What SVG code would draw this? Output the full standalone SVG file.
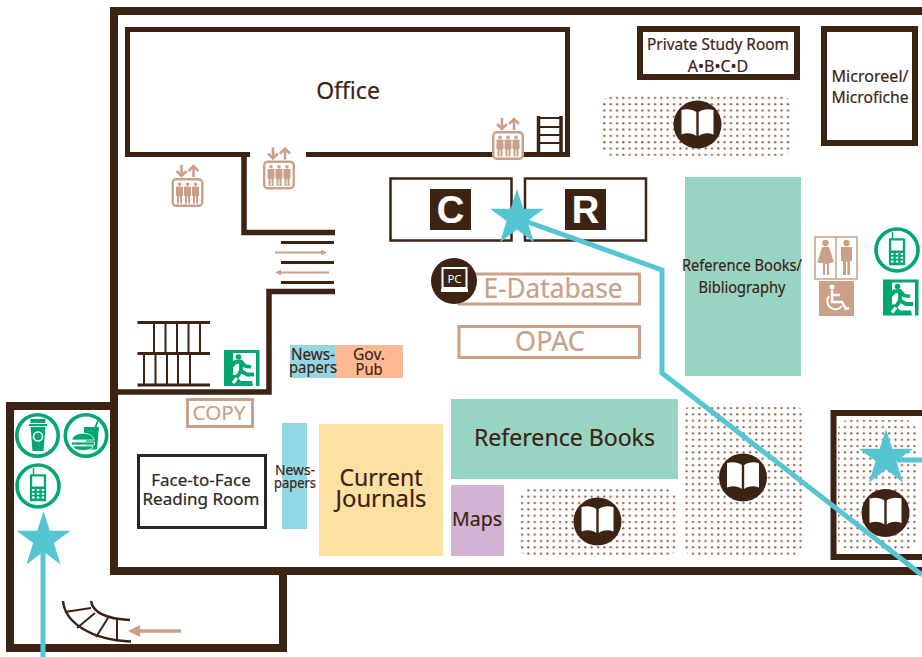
<svg xmlns="http://www.w3.org/2000/svg" xmlns:xlink="http://www.w3.org/1999/xlink" width="922" height="657" viewBox="0 0 922 657">
<style>
text{font-family:"Noto Sans","Open Sans","DejaVu Sans",sans-serif;fill:#3d2314;text-anchor:middle;stroke:#3d2314;stroke-width:.2}
.wall{fill:none;stroke:#3d2314;stroke-linejoin:miter}
.tan{fill:none;stroke:#cba088;stroke-width:3}
.tant{fill:#cba088}
.route{fill:none;stroke:#56c5d2;stroke-width:5;stroke-linejoin:miter}
.g{fill:none;stroke:#00a870;stroke-width:3.6}
.gf{fill:#00a870}
.b{stroke:#3d2314;fill:none}
.tt{fill:#cba088;stroke:#cba088}
</style>
<defs>
<pattern id="dots" width="6.33" height="6.33" patternUnits="userSpaceOnUse"><circle cx="3" cy="3" r="1.15" fill="#8f5f40"/></pattern>
<polygon id="star" fill="#56c5d2" points="0,-28.5 6.3,-8.8 27,-8.8 10.4,3.6 17,25 0,12 -17,25 -10.4,3.6 -27,-8.8 -6.3,-8.8"/>
<g id="book">
<circle r="24" fill="#3d2314"/>
<path fill="#fff" d="M-1.2,-12.5C-5,-15.5 -11,-16 -16,-14.5V10C-10.5,8 -5,8.5 -1.2,11.5ZM1.2,-12.5C5,-15.5 11,-16 16,-14.5V10C10.5,8 5,8.5 1.2,11.5Z"/>
</g>
<g id="lift">
<rect x="1.2" y="1.2" width="29.6" height="26.6" rx="3.5" fill="#fff" stroke="#cba088" stroke-width="2.4"/>
<path class="tant" d="M4.500,8.500h7v9.500h-1v7.500h-2v-7h-1v7h-2v-7.500h-1ZM12.500,8.500h7v9.500h-1v7.500h-2v-7h-1v7h-2v-7.500h-1ZM20.500,8.500h7v9.500h-1v7.500h-2v-7h-1v7h-2v-7.500h-1Z"/>
<circle class="tant" cx="8" cy="6.300" r="1.800"/><circle class="tant" cx="16" cy="6.300" r="1.800"/><circle class="tant" cx="24" cy="6.300" r="1.800"/>
<path d="M10,-13V-2M5,-7L10,-2L15,-7M22,-1V-12M17,-7L22,-12L27,-7" fill="none" stroke="#cba088" stroke-width="2.6"/>
</g>
<g id="phone">
<circle r="21" fill="#fff" class="g"/>
<path class="gf" d="M-8,-12H-5.800V-19H-4.200V-12H8Q9,-12 9,-11V17Q9,18 8,18H-8Q-9,18 -9,17V-11Q-9,-12 -8,-12Z" transform="translate(0,-1) scale(.9)"/>
<rect x="-5.800" y="-9.500" width="11.600" height="10" fill="#fff"/>
<path fill="#fff" d="M-6,3h2.500v2h-2.500zM-1.200,3h2.500v2h-2.500zM3.600,3h2.500v2h-2.500zM-6,6.700h2.500v2h-2.500zM-1.200,6.700h2.500v2h-2.500zM3.600,6.700h2.500v2h-2.500zM-6,10.400h2.500v2h-2.500zM-1.200,10.400h2.500v2h-2.500zM3.600,10.400h2.500v2h-2.500z"/>
</g>
<g id="exit">
<rect width="35.500" height="36" class="gf"/>
<path fill="#fff" d="M9,3H32V36H29L28,31H17L12,26H9Z"/>
<circle class="gf" cx="14.500" cy="7" r="2.800"/>
<path d="M8,16L11,12L17,11.500L21,16L27,17M17,11.500L17,21L13,27L8,27" fill="none" stroke="#00a870" stroke-width="3.800" stroke-linejoin="round"/>
<path d="M17,21L23,24.500L30,24.500" fill="none" stroke="#00a870" stroke-width="3.800"/>
<path d="M13,28L9,33" fill="none" stroke="#fff" stroke-width="3.200"/>
</g>
</defs>
<rect width="922" height="657" fill="#fff"/>

<g id="dot-areas">
<rect x="600" y="96" width="193" height="60" rx="12" fill="url(#dots)"/>
<rect x="684" y="403" width="118" height="154" rx="12" fill="url(#dots)"/>
<rect x="838" y="420" width="78" height="129" rx="10" fill="url(#dots)"/>
<rect x="519" y="489" width="158" height="67" rx="10" fill="url(#dots)"/>
</g>

<g id="walls">
<path class="wall" stroke-width="8" d="M922,11H114V571H922"/>
<path class="wall" stroke-width="8" d="M114,406H10V648H283V571"/>
<path class="wall" stroke-width="5" d="M250,154.500H127.500V29.500H567.500V154.500H533"/>
<path class="wall" stroke-width="5" d="M306,154.500H567"/>
<path class="wall" stroke-width="5.500" d="M244,155V232.500H335"/>
<path class="wall" stroke-width="5.500" d="M335,291.500H269V392H115"/>
</g>

<g id="stairs">
<path class="b" stroke-width="3" d="M281,242.500H334M281,262.500H334M281,282.500H334"/>
<path class="b" stroke-width="3" d="M137.500,322.500H210M137.500,353.500H210M137.500,385H210"/>
<path class="b" stroke-width="2" d="M154,322V353M165.500,322V353M177,322V353M188.500,322V353M200,322V353M144,354V385M155.500,354V385M167,354V385M178,354V385M190,354V385"/>
<path class="b" stroke-width="3.500" d="M538.500,116V153M561,116V153"/>
<path class="b" stroke-width="2" d="M539,118H561M539,127H561M539,135H561M539,143H561"/>
<path class="b" stroke-width="2.500" d="M63,601C65,622 90,640 131,641.500M91,601C93,613 108,619 130,620"/>
<path class="b" stroke-width="2" d="M65,612L91,608M77,628L95,613M96,637L108,618M117,640V620"/>
<path d="M275,252.500H325" stroke="#cba088" stroke-width="1.800"/><path class="tant" d="M327,252.500L321,249.800V255.200Z"/>
<path d="M329,272.500H279" stroke="#cba088" stroke-width="1.800"/><path class="tant" d="M275,272.500L281,269.800V275.200Z"/>
<path d="M181,631H137" stroke="#cba088" stroke-width="3.500"/><path class="tant" d="M128,631L140,625V637Z"/>
</g>

<g id="office"><text x="348" y="99" font-size="23">Office</text></g>

<g id="private-study"><rect x="640" y="29" width="157" height="48" fill="#fff" class="wall" stroke-width="6"/>
<text x="718" y="50" font-size="16" textLength="142" lengthAdjust="spacingAndGlyphs">Private Study Room</text><text x="718" y="72" font-size="16">A•B•C•D</text></g>

<g id="microreel"><rect x="824" y="29" width="91" height="114" fill="#fff" class="wall" stroke-width="6"/>
<text x="870" y="82" font-size="17" textLength="77" lengthAdjust="spacingAndGlyphs">Microreel/</text><text x="870" y="103" font-size="17" textLength="77" lengthAdjust="spacingAndGlyphs">Microfiche</text></g>

<g id="book-top"><use xlink:href="#book" x="697.500" y="124.500"/></g>

<g id="lift-1"><use xlink:href="#lift" x="171.500" y="178"/></g>
<g id="lift-2"><use xlink:href="#lift" x="263" y="160.500"/></g>
<g id="lift-3"><use xlink:href="#lift" x="492" y="131"/></g>

<g id="counter-c"><rect x="390.500" y="178.500" width="121" height="62" fill="#fff" class="b" stroke-width="2.500"/>
<rect x="430" y="189" width="41" height="41" fill="#3d2314"/>
<text x="450.500" y="223" font-size="38" font-weight="700" style="font-family:'Liberation Sans',Arial,sans-serif;fill:#fff;stroke:#fff">C</text></g>
<g id="counter-r"><rect x="525" y="178.500" width="121" height="62" fill="#fff" class="b" stroke-width="2.500"/>
<rect x="565" y="189" width="41" height="41" fill="#3d2314"/>
<text x="585.500" y="223" font-size="38" font-weight="700" style="font-family:'Liberation Sans',Arial,sans-serif;fill:#fff;stroke:#fff">R</text></g>

<g id="e-database"><rect x="459" y="274" width="180.500" height="30" fill="#fff" class="tan"/>
<text x="553" y="298" font-size="27" class="tt" textLength="139" lengthAdjust="spacingAndGlyphs">E-Database</text></g>
<g id="pc"><circle cx="454" cy="281" r="23" fill="#3d2314"/>
<rect x="442.500" y="268" width="24" height="20" fill="#3d2314" stroke="#fff" stroke-width="2"/>
<path d="M441,290.500H468" stroke="#fff" stroke-width="3"/>
<text x="454.500" y="283" font-size="11.500" style="fill:#fff;stroke:none">PC</text></g>
<g id="opac"><rect x="459" y="326.500" width="180.500" height="31" fill="#fff" class="tan"/>
<text x="550" y="351" font-size="27" class="tt">OPAC</text></g>

<g id="ref-bib"><rect x="685" y="177" width="116" height="199" fill="#98d4c3"/>
<text x="742" y="271" font-size="16.500" textLength="120" lengthAdjust="spacingAndGlyphs">Reference Books/</text><text x="742" y="293" font-size="16.500" textLength="87" lengthAdjust="spacingAndGlyphs">Bibliography</text></g>

<g id="restroom"><rect x="815" y="237" width="42" height="42" fill="#fff" stroke="#cba088" stroke-width="1.500"/>
<path d="M836,237V279" stroke="#cba088" stroke-width="1.500"/>
<circle class="tant" cx="825.500" cy="243" r="3.200"/><circle class="tant" cx="846.500" cy="243" r="3.200"/>
<path class="tant" d="M822,247H829L834,262L830.500,263H829V275H827V264H825V275H823V263H819L817.500,262ZM841,247H852V261H850V275H847.300V262H846V275H843V261H841Z"/></g>
<g id="wheelchair"><rect x="819" y="281" width="35" height="35" class="tant"/>
<circle cx="832" cy="287" r="2.500" fill="#fff"/>
<path d="M832,290V302H842L846,309L849,308M832,295H840" fill="none" stroke="#fff" stroke-width="2.500"/>
<path d="M829,296A8,8 0 1 0 842,306" fill="none" stroke="#fff" stroke-width="2"/></g>
<g id="phone-right"><use xlink:href="#phone" x="897" y="250"/></g>
<g id="exit-right"><use xlink:href="#exit" x="883" y="279.500"/></g>
<g id="exit-left"><use xlink:href="#exit" x="224" y="350"/></g>

<g id="news-gov"><rect x="290" y="345" width="46" height="33" fill="#92d7e4"/><rect x="335" y="345" width="68" height="33" fill="#fdb993"/>
<text x="313" y="360" font-size="16" textLength="44" lengthAdjust="spacingAndGlyphs">News-</text><text x="313" y="373" font-size="16" textLength="48" lengthAdjust="spacingAndGlyphs">papers</text>
<text x="369" y="360" font-size="16.500" textLength="32" lengthAdjust="spacingAndGlyphs">Gov.</text><text x="369" y="375" font-size="16.500" textLength="27" lengthAdjust="spacingAndGlyphs">Pub</text></g>

<g id="copy"><rect x="187.500" y="399.500" width="65" height="27" fill="#fff" class="tan"/>
<text x="219" y="420" font-size="20" class="tt" textLength="53" lengthAdjust="spacingAndGlyphs">COPY</text></g>

<g id="face-room"><rect x="138.500" y="455.500" width="127" height="72" fill="#fff" stroke="#2b2623" stroke-width="3"/>
<text x="201" y="486" font-size="17" style="fill:#2b2623;stroke:#2b2623">Face-to-Face</text><text x="201" y="505" font-size="17" style="fill:#2b2623;stroke:#2b2623">Reading Room</text></g>

<g id="news-side"><rect x="282" y="423" width="25" height="106" fill="#92d7e4"/>
<text x="295" y="475" font-size="15" textLength="40" lengthAdjust="spacingAndGlyphs">News-</text><text x="295" y="488" font-size="15" textLength="42" lengthAdjust="spacingAndGlyphs">papers</text></g>

<g id="journals"><rect x="319" y="424" width="124" height="132" fill="#fee0a3"/>
<text x="381" y="486" font-size="23.500" textLength="83" lengthAdjust="spacingAndGlyphs">Current</text><text x="381" y="507" font-size="23.500" textLength="91" lengthAdjust="spacingAndGlyphs">Journals</text></g>

<g id="reference"><rect x="451" y="399" width="227" height="80" fill="#98d4c3"/>
<text x="564.500" y="446" font-size="23" textLength="181" lengthAdjust="spacingAndGlyphs">Reference Books</text></g>

<g id="maps"><rect x="451" y="485" width="53" height="71" fill="#d1b3d4"/>
<text x="477" y="526" font-size="19" textLength="50" lengthAdjust="spacingAndGlyphs">Maps</text></g>

<g id="book-3"><use xlink:href="#book" x="597.500" y="521.500"/></g>
<g id="book-2"><use xlink:href="#book" x="743" y="477.500"/></g>

<g id="alcove"><path class="wall" stroke-width="6" d="M922,413H833.500V557H922"/>
<use xlink:href="#book" x="885.500" y="513"/></g>

<g id="coffee"><circle cx="37.500" cy="435.500" r="20.700" fill="#fff" class="g"/>
<path class="gf" d="M30.500,419H45.500V423H30.500ZM29,424H47V426H29ZM30.500,427H45.500L43.500,451H32.500Z"/>
<circle cx="38" cy="436.500" r="4.500" fill="none" stroke="#fff" stroke-width="1.500"/></g>
<g id="burger"><circle cx="86" cy="435.500" r="20.700" fill="#fff" class="g"/>
<path class="gf" d="M84,427H99L97,449.500H86V440H84ZM94.500,427L97,420.500L98.500,421L96.500,427Z"/>
<path class="gf" d="M72,440C73,431 93,431 94,440ZM71.500,442H94.500V445H71.500ZM73,446H93C93,452 73,452 73,446Z" stroke="#fff" stroke-width=".8"/></g>
<g id="phone-left"><use xlink:href="#phone" x="38" y="486"/></g>

<g id="connectors">
<path class="route" d="M43,657V540"/>
<path class="route" d="M525,221L662,270V373L922,575"/>
<path class="route" d="M897,460H922"/>
</g>
<g id="stars">
<use xlink:href="#star" x="43.500" y="539.500"/>
<use xlink:href="#star" x="517" y="217.500"/>
<use xlink:href="#star" x="886" y="457.500"/>
</g>
</svg>
